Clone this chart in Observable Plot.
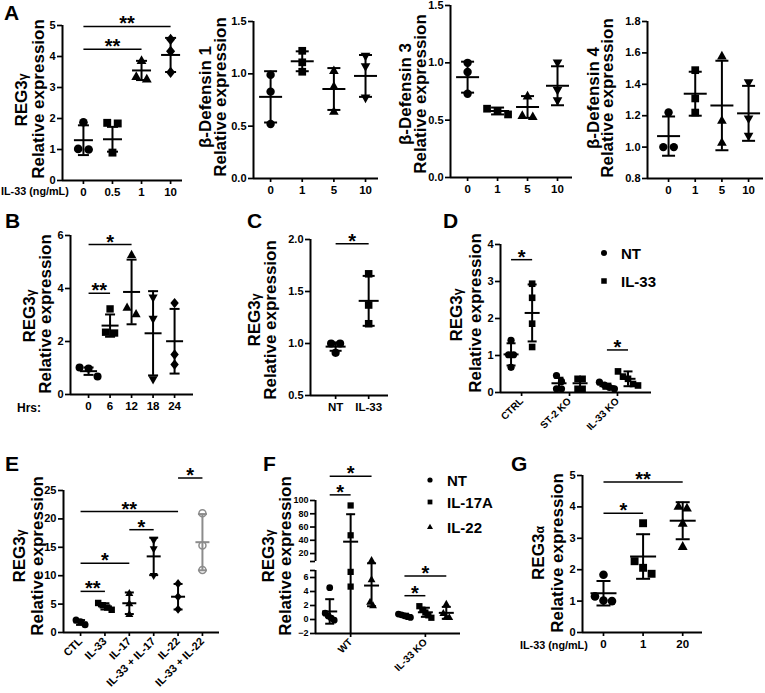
<!DOCTYPE html>
<html><head><meta charset="utf-8">
<script src="https://cdn.jsdelivr.net/npm/d3@7"></script>
<script src="https://cdn.jsdelivr.net/npm/@observablehq/plot@0.6"></script>
<style>
body{margin:0;background:#fff;}
#fig{position:relative;width:765px;height:693px;overflow:hidden;font-family:"Liberation Sans",Arial,Helvetica,sans-serif;font-weight:bold;color:#000;background:#fff;}
.lbl{position:absolute;white-space:nowrap;font-weight:bold;line-height:1;}
.yt{position:absolute;white-space:nowrap;font-weight:bold;line-height:1;transform:translate(-50%,-50%) rotate(-90deg);}
.yt small{font-size:0.72em;}
</style></head><body><div id="fig"></div>
<script>
// ---------------- DATA ----------------
// Panel A1: REG3γ vs IL-33 dose
const a1Cats = ["0", "0.5", "1", "10"];
const a1Values = [[1.88, 1.02, 1.0], [1.86, 1.84, 0.9], [3.87, 3.35, 3.27], [4.55, 4.17, 3.49]];
const a1Mean = [1.30, 1.33, 3.55, 4.05];
const a1Sd = [0.48, 0.40, 0.31, 0.55];
const a1Sig = [["0", "1", 4.23, "**"], ["0", "10", 4.97, "**"]];
// Panel A2: β-Defensin 1
const a2Cats = ["0", "1", "5", "10"];
const a2Values = [[0.99, 0.83, 0.52], [1.22, 1.11, 1.02], [1.03, 0.88, 0.64], [1.17, 1.07, 0.77]];
const a2Mean = [0.78, 1.12, 0.855, 0.98];
const a2Sd = [0.245, 0.095, 0.2, 0.2];
// Panel A3: β-Defensin 3
const a3Cats = ["0", "1", "5", "10"];
const a3Values = [[1.0, 0.92, 0.73], [0.60, 0.58, 0.55], [0.71, 0.54, 0.53], [1.0, 0.76, 0.67]];
const a3Mean = [0.875, 0.58, 0.615, 0.80];
const a3Sd = [0.135, 0.03, 0.095, 0.17];
// Panel A4: β-Defensin 4
const a4Cats = ["0", "1", "5", "10"];
const a4Values = [[1.22, 1.0, 1.0], [1.49, 1.31, 1.22], [1.58, 1.17, 1.03], [1.41, 1.18, 1.07]];
const a4Mean = [1.07, 1.34, 1.265, 1.215];
const a4Sd = [0.125, 0.14, 0.285, 0.175];
// Panel B: time course
const bCats = ["0", "6", "12", "18", "24"];
const bValues = [[1.02, 0.98, 0.68], [3.23, 2.35, 2.32], [5.27, 3.28, 3.04], [3.65, 2.85, 0.57], [3.45, 1.51, 1.13]];
const bMean = [0.88, 2.6, 3.87, 2.31, 2.01];
const bSd = [0.14, 0.42, 1.22, 1.59, 1.22];
const bSig = [["0", "6", 3.82, "**"], ["0", "12", 5.66, "*"]];
// Panel C
const cCats = ["NT", "IL-33"];
const cValues = [[1.0, 1.0, 0.91], [1.67, 1.37, 1.19]];
const cMean = [0.97, 1.41];
const cSd = [0.04, 0.24];
const cSig = [["NT", "IL-33", 1.96, "*"]];
// Panel D
const dGroups = ["CTRL", "ST-2 KO", "IL-33 KO"];
const dTreat = ["NT", "IL-33"];
const dNT = [[1.41, 1.02, 1.02, 0.68], [0.46, 0.3, 0.1, 0.1], [0.28, 0.2, 0.14, 0.1]];
const dIL33 = [[2.94, 2.56, 1.86, 1.23], [0.37, 0.37, 0.1, 0.1], [0.57, 0.43, 0.37, 0.23, 0.19]];
const dMeanNT = [1.03, 0.25, 0.17];
const dMeanIL33 = [2.15, 0.25, 0.37];
const dSdNT = [0.30, 0.15, 0.07];
const dSdIL33 = [0.77, 0.15, 0.2];
const dSig = [["CTRL", 3.59, "*"], ["IL-33 KO", 1.15, "*"]];
// Panel E
const eCats = ["CTL", "IL-33", "IL-17", "IL-33 + IL-17", "IL-22", "IL-33 + IL-22"];
const eValues = [[2.2, 1.9, 1.35], [5.2, 4.8, 4.4, 4.0], [6.9, 5.1, 3.2], [16.2, 14.7, 10.0], [8.6, 6.3, 4.1], [21.0, 15.3, 11.0]];
const eMean = [1.76, 4.6, 5.15, 13.4, 6.3, 15.9];
const eSd = [0.42, 0.55, 1.9, 3.3, 2.25, 4.95];
const eSig = [["CTL", "IL-33", 7.24, "**"], ["CTL", "IL-17", 12.2, "*"], ["IL-17", "IL-33 + IL-17", 18.1, "*"], ["CTL", "IL-22", 21.3, "**"], ["IL-22", "IL-33 + IL-22", 27.2, "*"]];
// Panel F (broken y axis: -2..7 and 8..100)
const fGroups = ["WT", "IL-33 KO"];
const fTreat = ["NT", "IL-17A", "IL-22"];
const fNT = [[4.55, 0.9, 0.5, 0.2, -0.1], [0.77, 0.67, 0.53, 0.4, 0.3]];
const fIL17 = [[92.5, 47.5, 6.8, 4.7], [1.9, 1.4, 1.0, 0.6, 0.25]];
const fIL22 = [[10, 5.7, 2.5, 2.0], [2.2, 0.9, 0.35, 0.3]];
const fMean = [[1.15, 37.9, 4.85], [0.63, 1.03, 0.95]];
const fSd = [[1.75, 41.4, 2.95], [0.2, 0.65, 0.85]];
const fSig = [["WT", "NT", "IL-17A", 108.5, "*"], ["WT", "NT", "IL-22", 136.5, "*"], ["IL-33 KO", "NT", "IL-17A", 3.4, "*"], ["IL-33 KO", "NT", "IL-22", 6.2, "*"]];
const fTicks = [-2, 0, 2, 4, 6, 7, 8, 20, 40, 60, 80, 100];
const fBreaks = [-2, 7, 8, 100];
// Panel G: REG3α
const gCats = ["0", "1", "20"];
const gValues = [[1.84, 1.15, 1.02, 1.0], [3.48, 2.27, 2.06, 1.87], [4.02, 3.96, 3.48, 2.74]];
const gMean = [1.25, 2.42, 3.56];
const gSd = [0.39, 0.71, 0.59];
const gSig = [["0", "1", 3.8, "*"], ["0", "20", 4.79, "**"]];

// ---------------- HELPERS ----------------
const FONT = '"Liberation Sans", Arial, Helvetica, sans-serif';
const fig = document.getElementById("fig");
const SYM = {
  circle: {draw(c, s) { const r = Math.sqrt(s / Math.PI); c.moveTo(r, 0); c.arc(0, 0, r, 0, 2 * Math.PI); c.closePath(); }},
  square: {draw(c, s) { const r = Math.sqrt(s / Math.PI) * 0.92; c.rect(-r, -r, 2 * r, 2 * r); }},
  triangle: {draw(c, s) { const r = Math.sqrt(s / Math.PI); c.moveTo(0, -r * 1.25); c.lineTo(r * 1.15, r * 0.8); c.lineTo(-r * 1.15, r * 0.8); c.closePath(); }},
  triDown: {draw(c, s) { const r = Math.sqrt(s / Math.PI); c.moveTo(0, r * 1.25); c.lineTo(r * 1.15, -r * 0.8); c.lineTo(-r * 1.15, -r * 0.8); c.closePath(); }},
  diamond: {draw(c, s) { const r = Math.sqrt(s / Math.PI); c.moveTo(0, -r * 1.3); c.lineTo(r * 1.05, 0); c.lineTo(0, r * 1.3); c.lineTo(-r * 1.05, 0); c.closePath(); }},
  hline: {draw(c, s) { const r = Math.sqrt(s / Math.PI); c.moveTo(-r, 0); c.lineTo(r, 0); }}
};

function spread(vals, yPx, gap, thresh) {
  const order = vals.map((v, i) => i).sort((a, b) => vals[b] - vals[a]);
  const off = vals.map(() => 0);
  let cl = [];
  const flush = () => cl.forEach((i, k) => off[i] = (k - (cl.length - 1) / 2) * gap);
  order.forEach((i, k) => {
    if (k > 0 && Math.abs(yPx(vals[order[k - 1]]) - yPx(vals[i])) >= thresh) { flush(); cl = []; }
    cl.push(i);
  });
  flush();
  return off;
}

function label(html, x, y, size, anchor) {
  const d = document.createElement("div");
  d.className = "lbl"; d.innerHTML = html;
  d.style.fontSize = size + "px";
  d.style.left = x + "px"; d.style.top = (y - 0.85 * size) + "px";
  if (anchor === "middle") d.style.transform = "translateX(-50%)";
  if (anchor === "end") d.style.transform = "translateX(-100%)";
  fig.appendChild(d);
}
function ytitle(html, x, y, size) {
  const d = document.createElement("div");
  d.className = "yt"; d.innerHTML = html;
  d.style.fontSize = (size || 17) + "px";
  d.style.left = x + "px"; d.style.top = y + "px";
  fig.appendChild(d);
}
function legendItem(sym, x, y, text, r) {
  const ns = "http://www.w3.org/2000/svg";
  const s = document.createElementNS(ns, "svg");
  s.setAttribute("width", 20); s.setAttribute("height", 20);
  s.style.position = "absolute"; s.style.left = (x - 10) + "px"; s.style.top = (y - 10) + "px";
  const p = d3.path(); sym.draw(p, r * r * Math.PI);
  const path = document.createElementNS(ns, "path");
  path.setAttribute("d", p.toString()); path.setAttribute("transform", "translate(10,10)"); path.setAttribute("fill", "black");
  s.appendChild(path); fig.appendChild(s);
  label(text, x + 17, y + 5.5, 15);
}

function makePanel(cfg) {
  const mL = 50, mR = 20, mT = 60, mB = 90;
  const W = mL + cfg.xR - cfg.xL + mR, H = mT + cfg.yB - cfg.yT + mB;
  const top0 = cfg.yT - mT, left0 = cfg.xL - mL;
  const yDom = cfg.yDomain;
  const yLo = yDom[0], yHi = yDom[yDom.length - 1];
  // optional monotone map (for a broken axis); identity otherwise
  const ym = cfg.yMap || (v => v);
  const pxPerY = (cfg.yB - cfg.yT) / (ym(yHi) - ym(yLo));
  const yPx = v => ym(v) * pxPerY;
  const pxPerX = (cfg.xR - cfg.xL) / (cfg.xDomain[1] - cfg.xDomain[0]);
  const st = cfg.style;
  const marks = [];
  (cfg.ySegments || [[yLo, yHi]]).forEach(([a, b]) =>
    marks.push(Plot.ruleX([cfg.xDomain[0]], {y1: ym(a), y2: ym(b), stroke: "black", strokeWidth: 2})));
  marks.push(Plot.ruleY([ym(yLo)], {x1: cfg.xDomain[0], x2: cfg.xDomain[1], stroke: "black", strokeWidth: 2}));
  cfg.series.forEach(s => {
    const color = s.color || "black";
    const off = spread(s.values, yPx, st.gap, st.thresh);
    const pts = s.values.map((v, i) => ({x: s.pos + off[i] / pxPerX, y: ym(v)}));
    const lo = s.mean - s.sd, hi = s.mean + s.sd;
    const bar = [{x: s.pos, lo: ym(Math.max(lo, yLo)), hi: ym(hi), mean: ym(s.mean)}];
    marks.push(Plot.ruleX(bar, {x: "x", y1: "lo", y2: "hi", stroke: color, strokeWidth: 2}));
    marks.push(Plot.dot(bar, {x: "x", y: "mean", symbol: SYM.hline, r: st.meanHalf, stroke: color, strokeWidth: 2, fill: "none"}));
    const caps = [hi].concat(lo >= yLo ? [lo] : []).map(y => ({x: s.pos, y: ym(y)}));
    marks.push(Plot.dot(caps, {x: "x", y: "y", symbol: SYM.hline, r: st.capHalf, stroke: color, strokeWidth: 2, fill: "none"}));
    marks.push(Plot.dot(pts, {x: "x", y: "y", symbol: s.symbol, r: st.r, fill: s.fill || "black", stroke: s.stroke || "none", strokeWidth: 1.5}));
  });
  const sig = (cfg.sig || []).map(([a, b, y, t]) => ({x1: a, x2: b, y: ym(y), t, xm: (a + b) / 2}));
  if (sig.length) {
    marks.push(Plot.link(sig, {x1: "x1", x2: "x2", y1: "y", y2: "y", stroke: "black", strokeWidth: 1.5}));
    marks.push(Plot.text(sig, {x: "xm", y: "y", text: "t", fontSize: 20, fontWeight: "bold", lineAnchor: "bottom", dy: 4, fill: "black"}));
  }
  const mappedTicks = cfg.yTicks.map(ym);
  const svg = Plot.plot({
    width: W, height: H, marginLeft: mL, marginRight: mR, marginTop: mT, marginBottom: mB,
    style: {background: "transparent", overflow: "visible", fontFamily: FONT, fontWeight: "bold", fontSize: "11px", color: "black"},
    x: {domain: cfg.xDomain, ticks: cfg.xTicks, tickFormat: d => { const i = cfg.xTicks.indexOf(d); return i < 0 ? "" : cfg.xLabels[i]; },
        tickSize: 4, tickPadding: 3, tickRotate: cfg.xRotate || 0, label: null},
    y: {domain: [ym(yLo), ym(yHi)], ticks: mappedTicks, tickFormat: d => { const i = mappedTicks.indexOf(d); return i < 0 ? "" : cfg.yFmt(cfg.yTicks[i]); },
        tickSize: 5, tickPadding: 2, label: null},
    marks
  });
  const sel = d3.select(svg);
  sel.selectAll('[aria-label^="x-axis"] text').attr("font-size", cfg.xFont || 11.5);
  sel.selectAll('[aria-label^="y-axis"] text').attr("font-size", cfg.yFont || 11);
  sel.selectAll('[aria-label^="x-axis"] path, [aria-label^="x-axis"] line, [aria-label^="y-axis"] path, [aria-label^="y-axis"] line').attr("stroke-width", 1.7);
  svg.style.position = "absolute";
  svg.style.left = left0 + "px";
  svg.style.top = top0 + "px";
  svg.style.maxWidth = "none";
  fig.appendChild(svg);
}

function simple(cats, values, means, sds, syms) {
  return cats.map((c, i) => ({pos: i, values: values[i], mean: means[i], sd: sds[i], symbol: syms[i]}));
}
function sigIdx(cats, sig) { return sig.map(([a, b, y, t]) => [cats.indexOf(a), cats.indexOf(b), y, t]); }
const idx = n => d3.range(n);
const f1 = d3.format(".1f"), fd = d3.format("d");
const S4 = [SYM.circle, SYM.square, SYM.triangle, SYM.diamond];
const S4b = [SYM.circle, SYM.square, SYM.triangle, SYM.triDown];

// ---------------- PANELS ----------------
const styleA = {r: 4.3, meanHalf: 9.5, capHalf: 5.5, gap: 10.5, thresh: 9};
const styleA2 = {r: 4.2, meanHalf: 11.5, capHalf: 6.5, gap: 10.5, thresh: 9};
makePanel({xL: 62, xR: 182, yT: 25, yB: 180, xDomain: [-0.72, 3.41], yDomain: [0, 5], yTicks: [0, 1, 2, 3, 4, 5], yFmt: fd,
  xTicks: idx(4), xLabels: a1Cats, style: styleA, series: simple(a1Cats, a1Values, a1Mean, a1Sd, S4), sig: sigIdx(a1Cats, a1Sig)});
makePanel({xL: 253, xR: 378, yT: 21, yB: 178, xDomain: [-0.54, 3.41], yDomain: [0, 1.5], yTicks: [0, 0.5, 1, 1.5], yFmt: f1,
  xTicks: idx(4), xLabels: a2Cats, style: styleA2, series: simple(a2Cats, a2Values, a2Mean, a2Sd, S4b)});
makePanel({xL: 450, xR: 572, yT: 5, yB: 177, xDomain: [-0.57, 3.5], yDomain: [0, 1.5], yTicks: [0, 0.5, 1, 1.5], yFmt: f1,
  xTicks: idx(4), xLabels: a3Cats, style: styleA2, series: simple(a3Cats, a3Values, a3Mean, a3Sd, S4b)});
makePanel({xL: 647, xR: 763, yT: 21, yB: 178, xDomain: [-0.79, 3.56], yDomain: [0.8, 1.8], yTicks: [0.8, 1.0, 1.2, 1.4, 1.6, 1.8], yFmt: f1,
  xTicks: idx(4), xLabels: a4Cats, style: styleA2, series: simple(a4Cats, a4Values, a4Mean, a4Sd, S4b)});

makePanel({xL: 70, xR: 193, yT: 235, yB: 394, xDomain: [-0.84, 4.88], yDomain: [0, 6], yTicks: [0, 2, 4, 6], yFmt: fd,
  xTicks: idx(5), xLabels: bCats, style: {r: 4, meanHalf: 8.5, capHalf: 5, gap: 9, thresh: 9},
  series: simple(bCats, bValues, bMean, bSd, [SYM.circle, SYM.square, SYM.triangle, SYM.triDown, SYM.diamond]), sig: sigIdx(bCats, bSig)});

makePanel({xL: 310, xR: 388, yT: 239, yB: 395, xDomain: [-0.76, 1.6], yDomain: [0.5, 2], yTicks: [0.5, 1, 1.5, 2], yFmt: f1,
  xTicks: idx(2), xLabels: cCats, style: {r: 4.1, meanHalf: 10, capHalf: 6, gap: 9, thresh: 8},
  series: simple(cCats, cValues, cMean, cSd, [SYM.circle, SYM.square]), sig: sigIdx(cCats, cSig)});

const dOff = 0.22;
makePanel({xL: 500, xR: 651, yT: 244, yB: 392, xDomain: [-0.44, 2.71], yDomain: [0, 4], yTicks: [0, 1, 2, 3, 4], yFmt: fd,
  xTicks: idx(3), xLabels: dGroups, xRotate: -45, xFont: 10, style: {r: 3.6, meanHalf: 7.5, capHalf: 4.5, gap: 5, thresh: 7},
  series: dGroups.flatMap((g, gi) => [
    {pos: gi - dOff, values: dNT[gi], mean: dMeanNT[gi], sd: dSdNT[gi], symbol: SYM.circle},
    {pos: gi + dOff, values: dIL33[gi], mean: dMeanIL33[gi], sd: dSdIL33[gi], symbol: SYM.square}]),
  sig: dSig.map(([g, y, t]) => [dGroups.indexOf(g) - dOff, dGroups.indexOf(g) + dOff, y, t])});

const eSeries = simple(eCats, eValues, eMean, eSd, [SYM.circle, SYM.square, SYM.triangle, SYM.triDown, SYM.diamond, SYM.circle]);
Object.assign(eSeries[5], {color: "#8c8c8c", fill: "none", stroke: "#8c8c8c"});
makePanel({xL: 63, xR: 219, yT: 490, yB: 632, xDomain: [-0.7, 5.7], yDomain: [0, 25], yTicks: [0, 5, 10, 15, 20, 25], yFmt: fd,
  xTicks: idx(6), xLabels: eCats, xRotate: -45, xFont: 11, style: {r: 3.5, meanHalf: 7, capHalf: 4.5, gap: 4.5, thresh: 7},
  series: eSeries, sig: sigIdx(eCats, eSig)});

// broken axis: lower segment -2..7 and upper segment 8..100, with a small gap between
const fMap = d3.scaleLinear().domain(fBreaks).range([0, 63, 72, 133]);
const fOff = [-0.28, 0, 0.28];
const fSyms = [SYM.circle, SYM.square, SYM.triangle];
const fVals = [fNT, fIL17, fIL22];
makePanel({xL: 315, xR: 460, yT: 500, yB: 633, xDomain: [-0.47, 1.47], yDomain: fBreaks, yMap: fMap,
  ySegments: [[fBreaks[0], fBreaks[1]], [fBreaks[2], fBreaks[3]]], yTicks: fTicks, yFmt: d => (d === 7 || d === 8) ? "" : fd(d), yFont: 9,
  xTicks: idx(2), xLabels: fGroups, xRotate: -45, xFont: 10, style: {r: 3.4, meanHalf: 7.5, capHalf: 4.5, gap: 3, thresh: 6},
  series: fGroups.flatMap((g, gi) => fTreat.map((t, ti) => ({pos: gi + fOff[ti], values: fVals[ti][gi], mean: fMean[gi][ti], sd: fSd[gi][ti], symbol: fSyms[ti]}))),
  sig: fSig.map(([g, a, b, y, t]) => [fGroups.indexOf(g) + fOff[fTreat.indexOf(a)], fGroups.indexOf(g) + fOff[fTreat.indexOf(b)], y, t])});

makePanel({xL: 582, xR: 702, yT: 475, yB: 632, xDomain: [-0.53, 2.5], yDomain: [0, 5], yTicks: [0, 1, 2, 3, 4, 5], yFmt: fd,
  xTicks: idx(3), xLabels: gCats, style: {r: 4.3, meanHalf: 13, capHalf: 7, gap: 8.5, thresh: 9},
  series: simple(gCats, gValues, gMean, gSd, [SYM.circle, SYM.square, SYM.triangle]), sig: sigIdx(gCats, gSig)});

// ---------------- TEXT ----------------
[["A", 4, 20], ["B", 5, 228], ["C", 247, 228], ["D", 443, 228], ["E", 5, 471], ["F", 263, 471], ["G", 511, 471]]
  .forEach(([t, x, y]) => label(t, x, y, 21));
label("IL-33 (ng/mL)", 1, 195, 10.8);
label("IL-33 (ng/mL)", 520, 649, 10.8);
label("Hrs:", 17, 412, 12);
const REG3g = "REG3<small>γ</small>", REL = "Relative expression";
ytitle(REG3g, 21, 100); ytitle(REL, 38, 99);
ytitle("β-Defensin 1", 205, 97); ytitle(REL, 220, 97);
ytitle("β-Defensin 3", 405, 94); ytitle(REL, 420, 94);
ytitle("β-Defensin 4", 593, 98); ytitle(REL, 607, 98);
ytitle(REG3g, 29, 316); ytitle(REL, 45, 314);
ytitle(REG3g, 254, 320); ytitle(REL, 270, 320);
ytitle(REG3g, 456, 315); ytitle(REL, 475, 313);
ytitle(REG3g, 19, 556); ytitle(REL, 37, 556);
ytitle(REG3g, 268, 556); ytitle(REL, 285, 556);
ytitle("REG3<small>α</small>", 538, 553); ytitle(REL, 557, 553);
legendItem(SYM.circle, 604, 253, dTreat[0], 3);
legendItem(SYM.square, 604, 281, dTreat[1], 3);
fTreat.forEach((t, i) => legendItem(fSyms[i], 430, [480, 502, 527][i], t, 2.6));
</script></body></html>
